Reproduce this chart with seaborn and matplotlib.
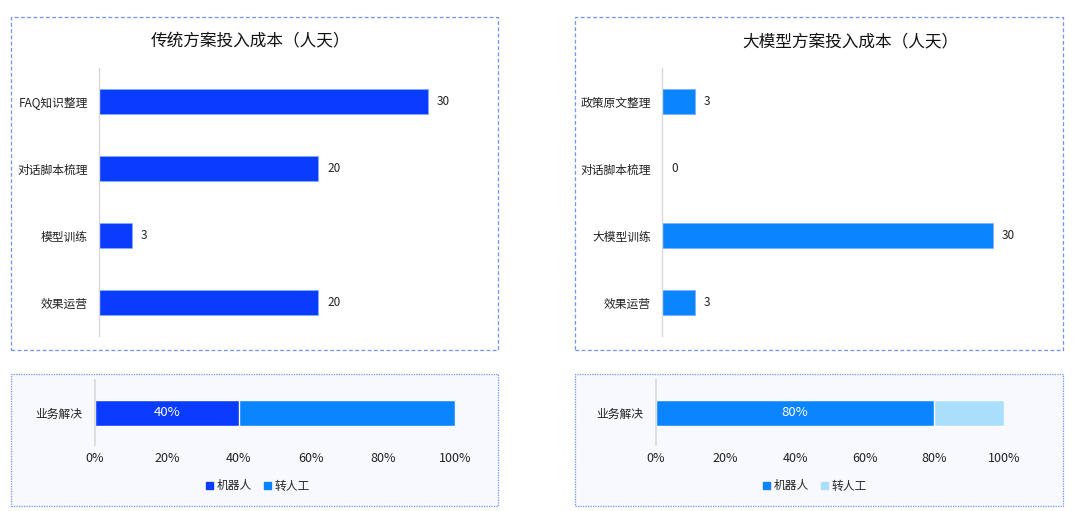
import matplotlib
matplotlib.use("Agg")
import matplotlib.pyplot as plt
from matplotlib.patches import Rectangle, Patch
import pandas as pd
import seaborn as sns

sns.set_theme(style="white")
plt.rcParams['font.family'] = ['Noto Sans CJK SC', 'DejaVu Sans']

# 数据
trad_title = "传统方案投入成本（人天）"
trad_items = ["FAQ知识整理", "对话脚本梳理", "模型训练", "效果运营"]
trad_days = [30, 20, 3, 20]

llm_title = "大模型方案投入成本（人天）"
llm_items = ["政策原文整理", "对话脚本梳理", "大模型训练", "效果运营"]
llm_days = [3, 0, 30, 3]

resolve_cat = ["业务解决"]
trad_robot = [40]
trad_human = [60]
llm_robot = [80]
llm_human = [20]
pct_ticks = [0, 20, 40, 60, 80, 100]

DARK = "#0a3cff"
MID = "#0a84ff"
LIGHT = "#a9defd"
W, H = 1080, 511

fig = plt.figure(figsize=(W / 100, H / 100), dpi=100)


def px_axes(x0, y0, x1, y1):
    return fig.add_axes([x0 / W, 1 - y1 / H, (x1 - x0) / W, (y1 - y0) / H])


def px_box(x0, y0, x1, y1, ls, fill):
    r = Rectangle((x0 / W, 1 - y1 / H), (x1 - x0) / W, (y1 - y0) / H,
                  transform=fig.transFigure, fill=fill is not None,
                  facecolor=fill if fill else "none", edgecolor="#6e93f5",
                  linestyle=ls, linewidth=0.9, zorder=-1)
    fig.patches.append(r)


# 外框
px_box(11, 17, 498, 350, (0, (3, 2)), None)
px_box(575, 17, 1063, 350, (0, (3, 2)), None)
px_box(11, 374, 498, 506, (0, (1, 1)), "#f8f9fe")
px_box(575, 374, 1063, 506, (0, (1, 1)), "#f8f9fe")


def cost_chart(ax, items, days, color, title, title_x):
    df = pd.DataFrame({"item": items, "days": days})
    sns.barplot(data=df, x="days", y="item", orient="h", color=color,
                width=0.36, saturation=1, edgecolor="#7fb0ff", linewidth=0.6, ax=ax)
    ax.set_xlim(0, 34)
    ax.set_ylim(3.5, -0.5)
    ax.set_xlabel("")
    ax.set_ylabel("")
    ax.set_xticks([])
    for s in ["top", "right", "bottom"]:
        ax.spines[s].set_visible(False)
    ax.spines["left"].set_color("#d9d9d9")
    ax.spines["left"].set_linewidth(1)
    ax.patch.set_alpha(0)
    ax.tick_params(axis="y", which="major", length=0, pad=8, labelsize=8.5, labelcolor="#222222")
    ax.set_yticks([0.5, 1.5, 2.5], minor=True)
    ax.tick_params(axis="y", which="minor", length=3, color="#d9d9d9", width=1)
    for c in ax.containers:
        ax.bar_label(c, padding=6.5, fontsize=8.5, color="#222222")
    fig.text(title_x / W, 1 - 42 / H, title, ha="center", va="center",
             fontsize=12, color="#111111")


ax1 = px_axes(99, 68, 472, 336)
cost_chart(ax1, trad_items, trad_days, DARK, trad_title, 250)
ax2 = px_axes(662, 68, 1037, 336)
cost_chart(ax2, llm_items, llm_days, MID, llm_title, 850)


def share_chart(ax, robot, human, c_robot, c_human, legend_x):
    df = pd.DataFrame({"cat": resolve_cat, "robot": robot,
                       "total": [r + h for r, h in zip(robot, human)]})
    sns.barplot(data=df, x="total", y="cat", orient="h", color=c_human,
                width=0.4, saturation=1, ax=ax)
    sns.barplot(data=df, x="robot", y="cat", orient="h", color=c_robot,
                width=0.4, saturation=1, ax=ax)
    ax.bar_label(ax.containers[1], labels=[f"{v}%" for v in robot],
                 label_type="center", color="white", fontsize=9.5)
    ax.set_xlim(0, 100)
    ax.set_ylim(0.5, -0.5)
    ax.set_xlabel("")
    ax.set_ylabel("")
    ax.set_xticks(pct_ticks)
    ax.set_xticklabels([f"{t}%" for t in pct_ticks])
    ax.tick_params(axis="x", length=0, pad=5, labelsize=9, labelcolor="#222222")
    ax.tick_params(axis="y", length=0, pad=9, labelsize=8.5, labelcolor="#222222")
    for s in ["top", "right", "bottom"]:
        ax.spines[s].set_visible(False)
    ax.spines["left"].set_color("#d9d9d9")
    ax.patch.set_alpha(0)
    handles = [Patch(color=c_robot, label="机器人"), Patch(color=c_human, label="转人工")]
    fig.legend(handles=handles, loc="center", bbox_to_anchor=(legend_x / W, 1 - 486 / H),
               ncol=2, frameon=False, fontsize=8.5, handlelength=0.6, handleheight=0.6,
               handletextpad=0.3, columnspacing=1.0)


ax3 = px_axes(95, 380, 455, 445)
share_chart(ax3, trad_robot, trad_human, DARK, MID, 258)
ax4 = px_axes(656, 380, 1004, 445)
share_chart(ax4, llm_robot, llm_human, MID, LIGHT, 815)

fig.savefig("out.png", dpi=100)
